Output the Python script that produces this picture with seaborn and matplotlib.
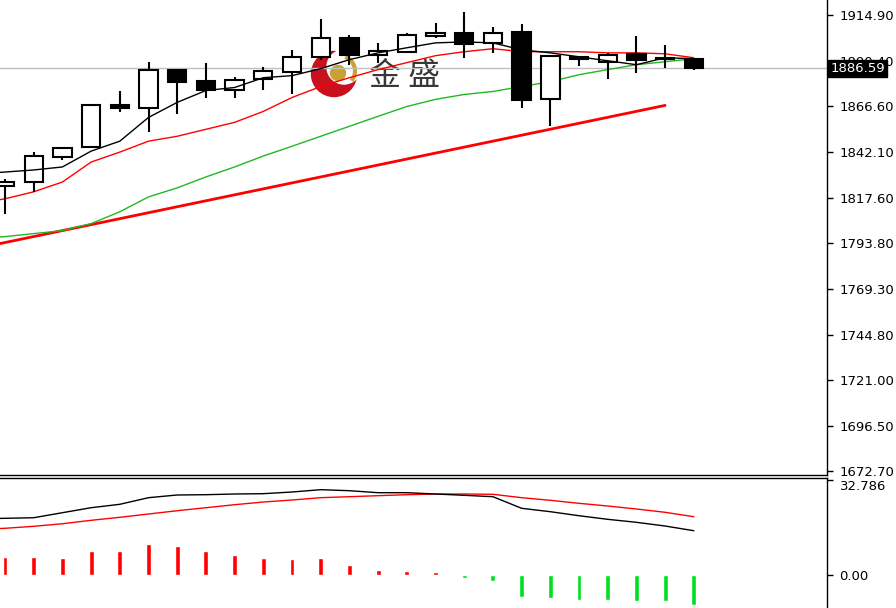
import matplotlib
matplotlib.use('Agg')
import matplotlib.pyplot as plt
import matplotlib.patches as mpatches
import pandas as pd
import seaborn as sns

# daily candles, oldest first
opens = [1824.1, 1826.2, 1839.4, 1844.7, 1866.9, 1865.3, 1885.9, 1880.1, 1875.3, 1881.1,
         1884.8, 1892.7, 1902.8, 1893.8, 1895.4, 1903.8, 1905.4, 1900.1, 1905.9, 1870.1,
         1892.7, 1890.1, 1894.3, 1892.2, 1891.7]
highs = [1827.8, 1842.1, 1844.7, 1867.4, 1874.8, 1890.1, 1886.4, 1889.6, 1882.2, 1887.5,
         1896.4, 1912.8, 1904.3, 1900.1, 1905.4, 1910.7, 1916.5, 1908.6, 1910.2, 1893.8,
         1892.9, 1894.8, 1903.8, 1899.1, 1892.2]
lows = [1809.4, 1821.0, 1837.9, 1844.2, 1863.2, 1852.6, 1862.1, 1870.6, 1870.6, 1875.3,
        1872.7, 1891.2, 1888.5, 1889.6, 1895.4, 1902.8, 1892.2, 1894.8, 1865.3, 1855.8,
        1888.0, 1881.1, 1884.3, 1886.9, 1885.9]
closes = [1826.2, 1840.0, 1844.2, 1866.9, 1865.3, 1885.9, 1879.5, 1875.3, 1880.6, 1885.3,
          1892.7, 1902.8, 1893.8, 1895.9, 1904.3, 1905.4, 1899.6, 1905.4, 1869.5, 1893.3,
          1891.7, 1893.8, 1891.2, 1891.7, 1886.59]

# moving averages, first value belongs to the bar before the visible window
ma_x = list(range(-1, 25))
ma_fast = [1830.5, 1831.5, 1832.6, 1834.2, 1842.6, 1847.9, 1860.5, 1868.5, 1874.8, 1876.4,
           1881.6, 1882.7, 1886.4, 1891.2, 1894.8, 1897.5, 1900.1, 1900.6, 1900.1, 1896.4,
           1894.8, 1892.7, 1890.6, 1888.5, 1892.2, 1891.7]
ma_mid = [1814.6, 1817.3, 1821.0, 1826.2, 1836.8, 1842.1, 1847.9, 1850.5, 1854.2, 1857.9,
          1863.7, 1871.1, 1876.9, 1881.6, 1885.9, 1889.6, 1893.3, 1895.4, 1897.0, 1895.4,
          1895.4, 1895.4, 1894.8, 1894.8, 1894.3, 1892.2]
ma_slow = [1796.2, 1797.2, 1798.8, 1800.4, 1804.1, 1810.4, 1818.3, 1823.1, 1828.9, 1834.2,
           1840.0, 1845.2, 1850.5, 1855.8, 1861.1, 1866.3, 1870.1, 1872.7, 1874.3, 1876.9,
           1879.5, 1883.2, 1885.9, 1888.5, 1890.1, 1891.7]

trend_x = [-1, 23]
trend_y = [1790.9, 1866.9]

last_price = 1886.59
price_ticks = [1914.90, 1890.40, 1866.60, 1842.10, 1817.60, 1793.80,
               1769.30, 1744.80, 1721.00, 1696.50, 1672.70]

# MACD panel
macd_fast = [19.40, 19.57, 19.77, 21.50, 23.22, 24.40, 26.68, 27.61, 27.71, 27.95,
             28.06, 28.64, 29.44, 29.09, 28.40, 28.40, 27.95, 27.50, 27.02, 23.02,
             21.85, 20.46, 19.22, 18.19, 16.91, 15.29]
macd_slow = [15.80, 16.12, 16.81, 17.70, 18.88, 19.91, 21.05, 22.19, 23.22, 24.26,
             25.19, 25.88, 26.68, 27.02, 27.37, 27.71, 27.95, 27.95, 27.85, 26.68,
             25.78, 24.74, 23.81, 22.78, 21.64, 20.12]
macd_hist = [6.2, 6.2, 5.9, 8.3, 8.3, 10.7, 10.0, 8.3, 6.9, 5.9, 5.5, 5.9, 3.5,
             1.7, 1.4, 1.0, -1.0, -2.1, -7.6, -7.9, -8.6, -8.6, -9.0, -9.0, -10.4]
macd_ticks = [32.786, 0.0]

sns.set_style("white")
plt.rcParams['font.family'] = ['DejaVu Sans', 'Noto Sans CJK SC']

bars = pd.DataFrame({'idx': range(len(opens)), 'open': opens, 'high': highs,
                     'low': lows, 'close': closes})
ma = pd.DataFrame({'idx': ma_x, 'fast': ma_fast, 'mid': ma_mid, 'slow': ma_slow})
macd = pd.DataFrame({'idx': ma_x, 'fast': macd_fast, 'slow': macd_slow})

fig = plt.figure(figsize=(8.96, 6.08), dpi=100, facecolor='white')

# watermark layer in pixel coordinates, behind the chart
bg = fig.add_axes([0, 0, 1, 1], zorder=0)
bg.set_xlim(0, 896)
bg.set_ylim(608, 0)
bg.axis('off')
bg.add_patch(mpatches.Circle((334, 74), 22.5, color='#c8101e'))
bg.add_patch(mpatches.Circle((344, 67), 17, color='white'))
bg.add_patch(mpatches.Arc((340, 71), 30, 30, theta1=-70, theta2=40, color='#c9a233', lw=3))
bg.add_patch(mpatches.Circle((338, 73), 7.5, color='#c9a233'))
bg.text(405, 76, '金 盛', fontsize=23, color='#383838', ha='center', va='center',
        family=['Noto Sans CJK SC', 'DejaVu Sans'])

xlim = (-0.174, 28.64)

ax = fig.add_axes([0, 1 - 475 / 608, 827 / 896, 475 / 608], zorder=1)
ax.set_facecolor('none')

ax.axhline(last_price, color='#c0c0c0', lw=1, zorder=1)
ax.plot(trend_x, trend_y, color='#ff0000', lw=2.0, zorder=2)
sns.lineplot(data=ma, x='idx', y='slow', ax=ax, color='#22b822', lw=1, zorder=3)
sns.lineplot(data=ma, x='idx', y='mid', ax=ax, color='#ff0000', lw=1, zorder=3)

up = bars['close'] >= bars['open']
ax.vlines(bars['idx'], bars['low'], bars['high'], color='black', lw=1.5, zorder=4)
body_lo = bars[['open', 'close']].min(axis=1)
body_h = (bars['close'] - bars['open']).abs().clip(lower=0.3)
ax.bar(bars['idx'], body_h, bottom=body_lo, width=0.64,
       color=['white' if u else 'black' for u in up], edgecolor='black', lw=1.5, zorder=5)
sns.lineplot(data=ma, x='idx', y='fast', ax=ax, color='black', lw=1, zorder=6)

ax.set_xlim(*xlim)
ax.set_ylim(1670.6, 1922.87)
ax.yaxis.tick_right()
ax.set_yticks(price_ticks)
ax.set_yticklabels([f'{v:.2f}' for v in price_ticks])
ax.set_xticks([])
ax.set_xlabel('')
ax.set_ylabel('')
ax.tick_params(axis='y', direction='out', length=4, width=1, pad=5,
               labelsize=9.5, colors='black', right=True)
for side in ['left', 'top']:
    ax.spines[side].set_visible(False)
for side in ['right', 'bottom']:
    ax.spines[side].set_color('black')
    ax.spines[side].set_linewidth(1)

ax.text(1.004, last_price, f'{last_price:.2f}', transform=ax.get_yaxis_transform(),
        ha='left', va='center', color='white', fontsize=9.5, clip_on=False, zorder=10,
        bbox=dict(boxstyle='square,pad=0.15', fc='black', ec='black'))

ax2 = fig.add_axes([0, -0.01, 827 / 896, 1 - 478 / 608 + 0.01], zorder=1)
ax2.set_facecolor('none')
hist_colors = ['#ff0000' if v > 0 else '#00e020' for v in macd_hist]
ax2.bar(range(len(macd_hist)), macd_hist, width=0.17, color=hist_colors, zorder=2)
sns.lineplot(data=macd, x='idx', y='slow', ax=ax2, color='#ff0000', lw=1, zorder=3)
sns.lineplot(data=macd, x='idx', y='fast', ax=ax2, color='black', lw=1, zorder=3)
ax2.set_xlim(*xlim)
ax2.set_ylim(-13.46, 33.47)
ax2.yaxis.tick_right()
ax2.set_yticks(macd_ticks)
ax2.set_yticklabels(['32.786', '0.00'])
ax2.get_yticklabels()[0].set_va('top')
ax2.set_xticks([])
ax2.set_xlabel('')
ax2.set_ylabel('')
ax2.tick_params(axis='y', direction='out', length=4, width=1, pad=5,
                labelsize=9.5, colors='black', right=True)
for side in ['left', 'bottom']:
    ax2.spines[side].set_visible(False)
for side in ['right', 'top']:
    ax2.spines[side].set_color('black')
    ax2.spines[side].set_linewidth(1)

fig.savefig('out.png', dpi=100, facecolor='white')
